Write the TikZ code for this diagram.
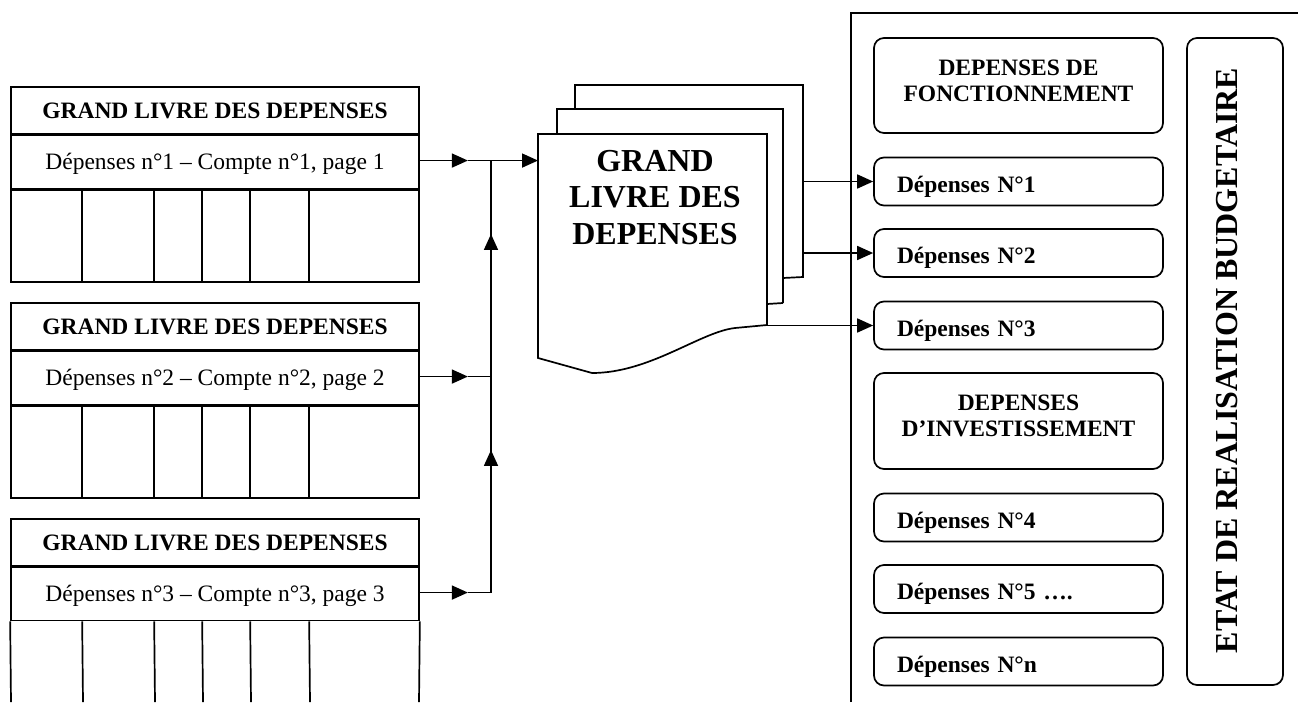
\documentclass[tikz,border=0pt]{standalone}
\usepackage{fontspec}
\setmainfont{Liberation Serif}
\usetikzlibrary{arrows.meta,calc}
\begin{document}
\begin{tikzpicture}[x=1pt,y=-1pt,line width=1.7pt,
  hdr/.style={draw,minimum width=408pt,minimum height=47pt,inner sep=0pt,anchor=north,
    font=\fontsize{23.5}{28}\selectfont\bfseries,text height=15.5pt,text depth=0pt},
  subrow/.style={draw,minimum width=408pt,minimum height=53pt,inner sep=0pt,anchor=north,
    font=\fontsize{23.5}{28}\selectfont,text height=15.5pt,text depth=0pt},
  gridrow/.style={draw,minimum width=408pt,minimum height=92pt,inner sep=0pt,anchor=north},
  arr/.style={-{Triangle[length=16pt,width=14pt]}},
  rbox/.style={draw,rounded corners=10pt,minimum width=289pt,inner sep=0pt},
  dep/.style={rbox,minimum height=48pt,font=\fontsize{23.5}{28}\selectfont\bfseries,
    text width=243pt,align=left,text height=23pt,text depth=2pt},
  cat/.style={align=center,font=\fontsize{23.5}{26}\selectfont\bfseries},
  page/.style={draw,fill=white,line join=miter}
]
\useasboundingbox (0,0) rectangle (1298,702);

% ---- left ledgers
\foreach \i/\top in {1/86,2/302,3/518}{
  \node[hdr] (t\i h) at (215,\top) {GRAND LIVRE DES DEPENSES};
  \node[subrow] (t\i s) at (t\i h.south) {Dépenses n°\i{} – Compte n°\i, page \i};
}
\node[gridrow] (t1g) at (t1s.south) {};
\node[gridrow] (t2g) at (t2s.south) {};
\foreach \t in {1,2}{
  \foreach \dx in {72,144,192,240,299}{
    \draw ($(t\t g.north west)+(\dx,0)$) -- ($(t\t g.south west)+(\dx,0)$);
  }
}
\draw (t3s.south west) -- (11,702);
\draw (t3s.south east) -- (419,702);
\foreach \dx in {72,144,192,240,299}{
  \draw ($(t3s.south west)+(\dx,0)$) -- (11+\dx,702);
}

% ---- document stack
\draw[page] (803,277) -- (803,85) -- (575,85) -- (575,277) -- (783,278) -- cycle;
\fill[white] (557,109) rectangle (783,303);
\draw (783,303) -- (783,109) -- (557,109) -- (557,303);
\draw (767,304) -- (783,303);
\fill[white] (538,134) -- (767,134) -- (767,325) -- (735,328)
   .. controls (700,332) and (650,373) .. (592,373) -- (538,358) -- cycle;
\draw (767,325) -- (767,134) -- (538,134) -- (538,358) -- (592,373)
   .. controls (650,373) and (700,332) .. (735,328) -- (767,325);
\node[align=center,font=\fontsize{32}{36.5}\selectfont\bfseries] (ledger) at (655,197.5)
  {GRAND\\LIVRE DES\\DEPENSES};
\coordinate (docL) at (538,0);
\coordinate (p3R) at (803,0);
\coordinate (p1R) at (767,0);

% ---- collecting bus
\coordinate (bus) at (491,0);
\foreach \i in {1,2,3}{
  \coordinate (j\i) at ($(t\i s.east -| bus)+(0,-1.5)$);
  \coordinate (s\i) at ($(t\i s.east)+(0,-1.5)$);
  \draw[arr] (s\i) -- ++(48,0) coordinate (a\i);
  \draw (a\i) -- (j\i);
}
\draw (j3) -- (j1);
\draw[arr] (j3) -- ($(j3)!0.66!(j2)$);
\draw[arr] (j2) -- ($(j2)!0.66!(j1)$);
\draw[arr] (j1) -- (j1 -| docL);

% ---- right panel
\draw (851,702) -- (851,13) -- (1298,13);
\node[rbox,minimum height=95pt] (fonct) at (1018.5,85.5) {};
\node[cat] (fonctT) at (1018.5,81) {DEPENSES DE\\FONCTIONNEMENT};
\node[dep] (d1) at (1018.5,181.5) {Dépenses N°1};
\node[dep] (d2) at (1018.5,253) {Dépenses N°2};
\node[dep] (d3) at (1018.5,325.5) {Dépenses N°3};
\node[rbox,minimum height=96pt] (inv) at (1018.5,421) {};
\node[cat] (invT) at (1018.5,416) {DEPENSES\\D’INVESTISSEMENT};
\node[dep] (d4) at (1018.5,517.5) {Dépenses N°4};
\node[dep] (d5) at (1018.5,589) {Dépenses N°5 ….};
\node[dep] (dn) at (1018.5,661.5) {Dépenses N°n};
\node[rbox,minimum width=96pt,minimum height=647pt] (etat) at (1235,361.5) {};
\node[rotate=90,font=\fontsize{32}{36}\selectfont\bfseries,inner sep=0pt] (etatT) at (1227.5,360.5)
  {ETAT DE REALISATION BUDGETAIRE};

\draw[arr] (d1.west -| p3R) -- (d1.west);
\draw[arr] (d2.west -| p3R) -- (d2.west);
\draw[arr] (d3.west -| p1R) -- (d3.west);
\end{tikzpicture}
\end{document}
